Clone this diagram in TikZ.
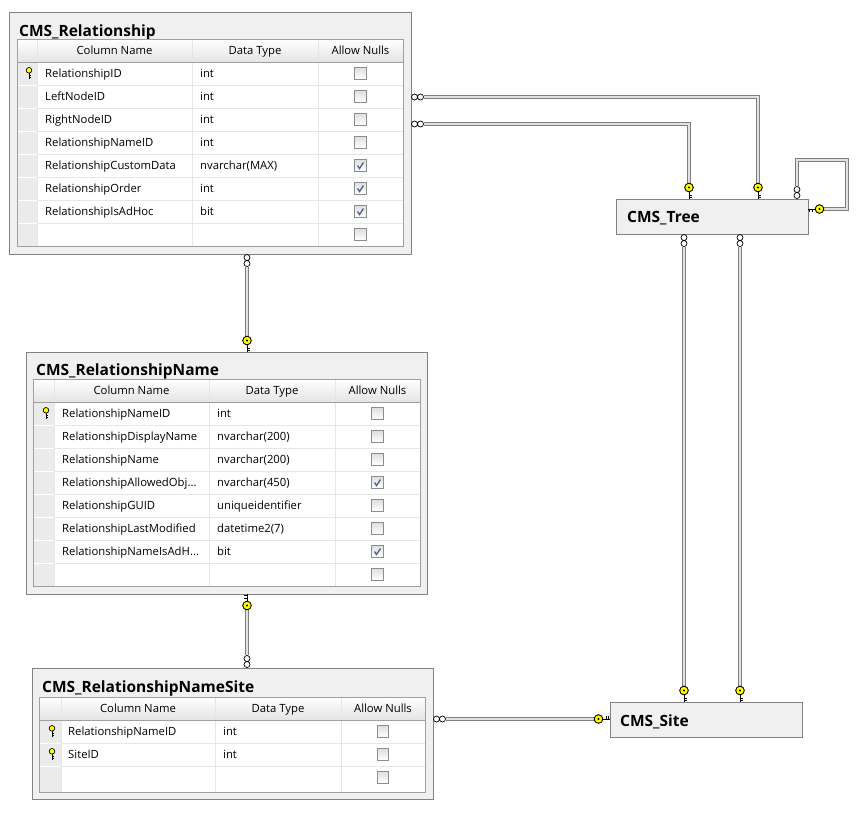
\documentclass[tikz,border=0pt]{standalone}
\usepackage{fontspec}
\setmainfont{Open Sans}

\definecolor{panel}{HTML}{F0F0F0}
\definecolor{boxgray}{HTML}{828282}
\definecolor{gridgray}{HTML}{A0A0A0}
\definecolor{rowline}{HTML}{E6E6E6}
\definecolor{selgray}{HTML}{EBEBEB}
\definecolor{hdrgray}{HTML}{E4E4E4}
\definecolor{chkgray}{HTML}{8C8C8C}
\definecolor{chkblue}{HTML}{4F6390}
\definecolor{fkouter}{HTML}{7E7E7E}
\definecolor{fkinner}{HTML}{E2E2E2}
\definecolor{keyyellow}{HTML}{FFFF00}

\tikzset{
  tbl/.style={draw=boxgray, fill=panel, line width=1pt, anchor=north west, inner sep=0pt, outer sep=0pt},
  tbltitle/.style={anchor=base west, inner sep=0pt, font=\fontsize{15.5}{17}\selectfont\bfseries},
  colhead/.style={anchor=base, inner sep=0pt, font=\fontsize{11.3}{13}\selectfont},
  colname/.style={anchor=base west, inner sep=0pt, font=\fontsize{11.3}{13}\selectfont},
  nullbox/.style={draw=chkgray, line width=0.8pt, top color=gray!25, bottom color=white, minimum size=11.5pt, inner sep=0pt},
  nullchk/.style={nullbox, path picture={
      \draw[chkblue, line width=1.3pt, shift={(path picture bounding box.center)}] (-3,0) -- (-1,3) -- (3,-3);}},
  fk/.style={draw=fkouter, double=fkinner, line width=1pt, double distance=2pt},
  % key end of a relationship, tip at (0,0) pointing down
  fkey/.pic={
    \draw[line width=0.8pt] (0,-7.5) -- (0,0) (0,-4) -- (2.8,-4) (0,-1.5) -- (2.8,-1.5);
    \draw[fill=keyyellow, line width=0.9pt] (0,-11.5) circle (4.3);
    \fill (0,-11.5) circle (1.1);
  },
  % many end of a relationship, going down from the box edge
  many/.pic={
    \draw[fill=white, line width=0.7pt] (0,3.5) circle (3) (0,9.5) circle (3);
  },
  % small key in the row selector
  pkey/.pic={
    \draw[line width=0.8pt] (0,-1) -- (0,5.5) (0,2) -- (2.3,2) (0,4.3) -- (2.3,4.3);
    \draw[fill=keyyellow, line width=0.7pt] (0,-3.2) circle (2.8);
  }
}

\begin{document}
\begin{tikzpicture}[x=1pt, y=-1pt]
\useasboundingbox (0,0) rectangle (865,815);

% Table boxes
\node[tbl, minimum width=402, minimum height=242] (rel) at (9,12) {};
\node[tbl, minimum width=401, minimum height=242] (rname) at (26,352) {};
\node[tbl, minimum width=401, minimum height=131] (rsite) at (32,668) {};
\node[tbl, minimum width=192, minimum height=35] (tree) at (616,199) {};
\node[tbl, minimum width=192, minimum height=35] (site) at (610,702) {};

\node[tbltitle] (rel-title) at (19,36) {CMS\_Relationship};
\node[tbltitle] (rname-title) at (36,375) {CMS\_RelationshipName};
\node[tbltitle] (rsite-title) at (42,692) {CMS\_RelationshipNameSite};
\node[tbltitle] (tree-title) at (627,222) {CMS\_Tree};
\node[tbltitle] (site-title) at (620,726) {CMS\_Site};

% CMS_Relationship columns
\begin{scope}[shift={(17,39)}]
\fill[white] (0,0) rectangle (386,207);
\shade[top color=white, bottom color=hdrgray] (0,0) rectangle (386,23);
\fill[selgray] (0,23) rectangle (20,207);
\foreach \r in {46,69,...,184} {
  \draw[rowline] (20,\r) -- (386,\r);
  \draw[white] (0,\r) -- (20,\r);
}
\draw[rowline] (20,0) -- (20,207) (175,0) -- (175,207) (301,0) -- (301,207);
\draw[gridgray] (0,23) -- (386,23);
\draw[gridgray, line width=1pt] (0,0) rectangle (386,207);
\node[colhead] (rel-h1) at (97.5,15.5) {Column Name};
\node[colhead] (rel-h2) at (238,15.5) {Data Type};
\node[colhead] (rel-h3) at (343.5,15.5) {Allow Nulls};
\pic at (12,34.5) {pkey};
\node[colname] (rel-n1) at (28,38.5) {RelationshipID};
\node[colname] (rel-t1) at (183,38.5) {int};
\node[nullbox] (rel-c1) at (343.5,34.5) {};
\node[colname] (rel-n2) at (28,61.5) {LeftNodeID};
\node[colname] (rel-t2) at (183,61.5) {int};
\node[nullbox] (rel-c2) at (343.5,57.5) {};
\node[colname] (rel-n3) at (28,84.5) {RightNodeID};
\node[colname] (rel-t3) at (183,84.5) {int};
\node[nullbox] (rel-c3) at (343.5,80.5) {};
\node[colname] (rel-n4) at (28,107.5) {RelationshipNameID};
\node[colname] (rel-t4) at (183,107.5) {int};
\node[nullbox] (rel-c4) at (343.5,103.5) {};
\node[colname] (rel-n5) at (28,130.5) {RelationshipCustomData};
\node[colname] (rel-t5) at (183,130.5) {nvarchar(MAX)};
\node[nullchk] (rel-c5) at (343.5,126.5) {};
\node[colname] (rel-n6) at (28,153.5) {RelationshipOrder};
\node[colname] (rel-t6) at (183,153.5) {int};
\node[nullchk] (rel-c6) at (343.5,149.5) {};
\node[colname] (rel-n7) at (28,176.5) {RelationshipIsAdHoc};
\node[colname] (rel-t7) at (183,176.5) {bit};
\node[nullchk] (rel-c7) at (343.5,172.5) {};
\node[nullbox] (rel-c8) at (343.5,195.5) {};
\end{scope}

% CMS_RelationshipName columns
\begin{scope}[shift={(33,379)}]
\fill[white] (0,0) rectangle (387,207);
\shade[top color=white, bottom color=hdrgray] (0,0) rectangle (387,23);
\fill[selgray] (0,23) rectangle (21,207);
\foreach \r in {46,69,...,184} {
  \draw[rowline] (21,\r) -- (387,\r);
  \draw[white] (0,\r) -- (21,\r);
}
\draw[rowline] (21,0) -- (21,207) (176,0) -- (176,207) (302,0) -- (302,207);
\draw[gridgray] (0,23) -- (387,23);
\draw[gridgray, line width=1pt] (0,0) rectangle (387,207);
\node[colhead] (rname-h1) at (98.5,15.5) {Column Name};
\node[colhead] (rname-h2) at (239,15.5) {Data Type};
\node[colhead] (rname-h3) at (344.5,15.5) {Allow Nulls};
\pic at (13,34.5) {pkey};
\node[colname] (rname-n1) at (29,38.5) {RelationshipNameID};
\node[colname] (rname-t1) at (184,38.5) {int};
\node[nullbox] (rname-c1) at (344.5,34.5) {};
\node[colname] (rname-n2) at (29,61.5) {RelationshipDisplayName};
\node[colname] (rname-t2) at (184,61.5) {nvarchar(200)};
\node[nullbox] (rname-c2) at (344.5,57.5) {};
\node[colname] (rname-n3) at (29,84.5) {RelationshipName};
\node[colname] (rname-t3) at (184,84.5) {nvarchar(200)};
\node[nullbox] (rname-c3) at (344.5,80.5) {};
\node[colname] (rname-n4) at (29,107.5) {RelationshipAllowedObj...};
\node[colname] (rname-t4) at (184,107.5) {nvarchar(450)};
\node[nullchk] (rname-c4) at (344.5,103.5) {};
\node[colname] (rname-n5) at (29,130.5) {RelationshipGUID};
\node[colname] (rname-t5) at (184,130.5) {uniqueidentifier};
\node[nullbox] (rname-c5) at (344.5,126.5) {};
\node[colname] (rname-n6) at (29,153.5) {RelationshipLastModified};
\node[colname] (rname-t6) at (184,153.5) {datetime2(7)};
\node[nullbox] (rname-c6) at (344.5,149.5) {};
\node[colname] (rname-n7) at (29,176.5) {RelationshipNameIsAdH...};
\node[colname] (rname-t7) at (184,176.5) {bit};
\node[nullchk] (rname-c7) at (344.5,172.5) {};
\node[nullbox] (rname-c8) at (344.5,195.5) {};
\end{scope}

% CMS_RelationshipNameSite columns
\begin{scope}[shift={(39,697)}]
\fill[white] (0,0) rectangle (386,95);
\shade[top color=white, bottom color=hdrgray] (0,0) rectangle (386,23);
\fill[selgray] (0,23) rectangle (22,95);
\foreach \r in {46,69} {
  \draw[rowline] (22,\r) -- (386,\r);
  \draw[white] (0,\r) -- (22,\r);
}
\draw[rowline] (22,0) -- (22,95) (176,0) -- (176,95) (302,0) -- (302,95);
\draw[gridgray] (0,23) -- (386,23);
\draw[gridgray, line width=1pt] (0,0) rectangle (386,95);
\node[colhead] (rsite-h1) at (99,15.5) {Column Name};
\node[colhead] (rsite-h2) at (239,15.5) {Data Type};
\node[colhead] (rsite-h3) at (344,15.5) {Allow Nulls};
\pic at (13,34.5) {pkey};
\node[colname] (rsite-n1) at (29,38.5) {RelationshipNameID};
\node[colname] (rsite-t1) at (184,38.5) {int};
\node[nullbox] (rsite-c1) at (344,34.5) {};
\pic at (13,57.5) {pkey};
\node[colname] (rsite-n2) at (29,61.5) {SiteID};
\node[colname] (rsite-t2) at (184,61.5) {int};
\node[nullbox] (rsite-c2) at (344,57.5) {};
\node[nullbox] (rsite-c3) at (344,80.5) {};
\end{scope}

% Relationships
\draw[fk, shorten <=13pt, shorten >=15pt] (rel.east |- 0,97) -| (tree.north -| 758,0);
\pic[rotate=90] at (rel.east |- 0,97) {many};
\pic at (tree.north -| 758,0) {fkey};

\draw[fk, shorten <=13pt, shorten >=15pt] (rel.east |- 0,124) -| (tree.north -| 689,0);
\pic[rotate=90] at (rel.east |- 0,124) {many};
\pic at (tree.north -| 689,0) {fkey};

\draw[fk, shorten <=13pt, shorten >=15pt] (tree.north -| 797,0) |- (847,160) |- (tree.east |- 0,209);
\pic[rotate=180] at (tree.north -| 797,0) {many};
\pic[rotate=-90] at (tree.east |- 0,209) {fkey};

\draw[fk, shorten <=13pt, shorten >=15pt] (tree.south -| 684,0) -- (site.north -| 684,0);
\pic at (tree.south -| 684,0) {many};
\pic at (site.north -| 684,0) {fkey};

\draw[fk, shorten <=13pt, shorten >=15pt] (tree.south -| 740,0) -- (site.north -| 740,0);
\pic at (tree.south -| 740,0) {many};
\pic at (site.north -| 740,0) {fkey};

\draw[fk, shorten <=13pt, shorten >=15pt] (rel.south -| 247,0) -- (rname.north -| 247,0);
\pic at (rel.south -| 247,0) {many};
\pic at (rname.north -| 247,0) {fkey};

\draw[fk, shorten <=15pt, shorten >=13pt] (rname.south -| 247,0) -- (rsite.north -| 247,0);
\pic[rotate=180] at (rname.south -| 247,0) {fkey};
\pic[rotate=180] at (rsite.north -| 247,0) {many};

\draw[fk, shorten <=13pt, shorten >=15pt] (rsite.east |- 0,719) -- (site.west |- 0,719);
\pic[rotate=90] at (rsite.east |- 0,719) {many};
\pic[rotate=90] at (site.west |- 0,719) {fkey};
\end{tikzpicture}
\end{document}
